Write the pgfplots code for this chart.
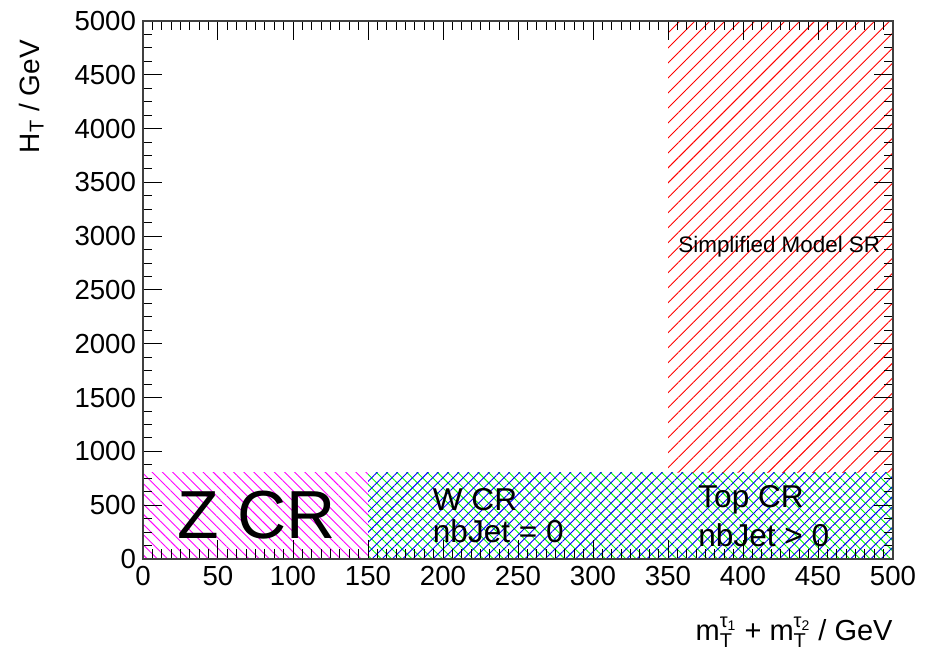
\documentclass[border=0pt]{standalone}
\usepackage{pgfplots}
\pgfplotsset{compat=1.18}
\usepackage{fontspec}
\setmainfont{Liberation Sans}
\usetikzlibrary{patterns.meta}
\begin{document}
\begin{tikzpicture}
\begin{axis}[
  at={(0,0)}, anchor=south west,
  width=375pt, height=269pt, scale only axis,
  xmin=0, xmax=500, ymin=0, ymax=5000,
  xtick={0,50,...,500}, ytick={0,500,...,5000},
  minor x tick num=7, minor y tick num=3,
  tick align=inside, tick pos=both,
  major tick length=9.5pt, minor tick length=4.75pt,
  scaled ticks=false,
  /pgf/number format/assume math mode=true,
  /pgf/number format/1000 sep={},
  ticklabel style={font=\fontsize{13.8}{16}\selectfont},
  axis line style={line width=0.6pt, black!75},
  every tick/.style={black, line width=0.5pt},
  axis on top,
  xlabel={m$^{\mbox{\fontsize{10}{10}\selectfont τ\fontsize{7}{7}\selectfont\raisebox{-0.4ex}{1}}}_{\mbox{\fontsize{10}{10}\selectfont T}}$ + m$^{\mbox{\fontsize{10}{10}\selectfont τ\fontsize{7}{7}\selectfont\raisebox{-0.4ex}{2}}}_{\mbox{\fontsize{10}{10}\selectfont T}}$ / GeV},
  ylabel={H$_{\mbox{\fontsize{10}{10}\selectfont T}}$ / GeV},
  every axis x label/.style={at={(axis description cs:1,-0.1357)}, anchor=east, inner sep=0pt, font=\fontsize{14.5}{17}\selectfont},
  every axis y label/.style={at={(axis description cs:-0.149,0.965)}, anchor=east, rotate=90, inner sep=0pt, font=\fontsize{14}{17}\selectfont},
]
% Z CR
\addplot[draw=none, mark=none, pattern={Lines[angle=-45,distance=3.6pt,line width=0.45pt]}, pattern color=magenta]
  coordinates {(0,0) (150,0) (150,800) (0,800)} -- cycle;
% W CR + Top CR
\addplot[draw=none, mark=none, pattern={Lines[angle=-45,distance=3.6pt,line width=0.45pt]}, pattern color=green]
  coordinates {(150,0) (500,0) (500,800) (150,800)} -- cycle;
\addplot[draw=none, mark=none, pattern={Lines[angle=45,distance=3.6pt,line width=0.45pt]}, pattern color=blue]
  coordinates {(150,0) (500,0) (500,800) (150,800)} -- cycle;
% SR
\addplot[draw=none, mark=none, pattern={Lines[angle=45,distance=5.3pt,line width=0.45pt]}, pattern color=red]
  coordinates {(350,800) (500,800) (500,5000) (350,5000)} -- cycle;

\node[anchor=base west, inner sep=0, font=\fontsize{34}{38}\selectfont] at (axis cs:22.7,186) {Z CR};
\node[anchor=base west, inner sep=0, font=\fontsize{15.8}{18}\selectfont] at (axis cs:193,455) {W CR};
\node[anchor=base west, inner sep=0, font=\fontsize{15.8}{18}\selectfont] at (axis cs:193,149) {nbJet = 0};
\node[anchor=base west, inner sep=0, font=\fontsize{15.8}{18}\selectfont] at (axis cs:370,474) {Top CR};
\node[anchor=base west, inner sep=0, font=\fontsize{15.8}{18}\selectfont] at (axis cs:370,112) {nbJet > 0};
\node[anchor=base west, inner sep=0, font=\fontsize{11.2}{13}\selectfont] at (axis cs:356.7,2844) {Simplified Model SR};
\end{axis}
\pgfresetboundingbox
\path[use as bounding box] (-71.5pt,-48.5pt) rectangle (394pt,279.5pt);
\end{tikzpicture}
\end{document}
